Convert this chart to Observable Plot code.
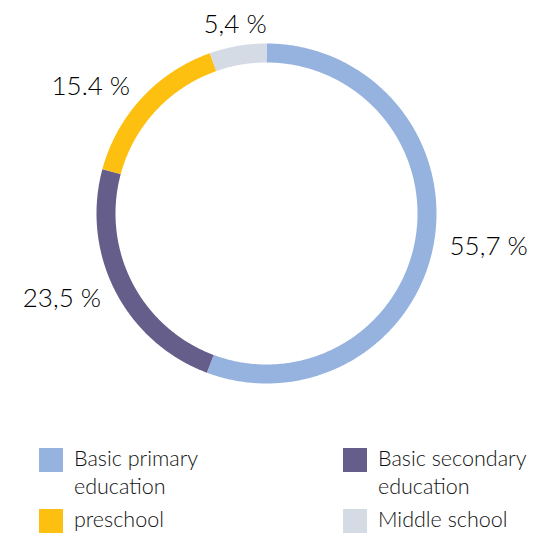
<!DOCTYPE html>
<html>
<head>
<meta charset="utf-8">
<script src="https://cdn.jsdelivr.net/npm/d3@7"></script>
<script src="https://cdn.jsdelivr.net/npm/@observablehq/plot@0.6"></script>
<style>
  html, body { margin: 0; padding: 0; background: #fff; }
  body { width: 534px; height: 541px; overflow: hidden; font-family: Lato, "Open Sans", sans-serif; color: #111; }
  #legend { display: grid; grid-template-columns: 304px 200px; padding-left: 39px; margin-top: 18px; row-gap: 9px; }
  .item { display: flex; align-items: flex-start; }
  .sw { width: 24px; height: 24px; flex: none; margin-right: 11px; }
  .lab { font-size: 21.5px; font-weight: 300; line-height: 28px; margin-top: -4px; }
</style>
</head>
<body>
<div id="chart"></div>
<div id="legend"></div>
<script>
const categories = ["Basic primary education", "Basic secondary education", "preschool", "Middle school"];
const legendLines = [["Basic primary", "education"], ["Basic secondary", "education"], ["preschool"], ["Middle school"]];
const values = [55.7, 23.5, 15.4, 5.4];
const valueLabels = ["55,7 %", "23,5 %", "15.4 %", "5,4 %"];
const colors = ["#95B3DE", "#655D8A", "#FDBF10", "#D5DBE5"];
const legendOrder = [0, 1, 2, 3];

// layout constants
const W = 534, H = 430;
const cx = 266, cy = 213;
const rOuter = 170, rInner = 151;
const rMid = (rOuter + rInner) / 2;
const rLabel = 186;

const total = d3.sum(values);
const arcRows = [];
const labelRows = [];
let acc = 0;
values.forEach((v, i) => {
  const a0 = acc / total * 2 * Math.PI;
  acc += v;
  const a1 = acc / total * 2 * Math.PI;
  const n = Math.max(2, Math.ceil((a1 - a0) / (Math.PI / 360)));
  for (let k = 0; k <= n; k++) {
    const a = a0 + (a1 - a0) * k / n;
    arcRows.push({category: categories[i], x: rMid * Math.sin(a), y: rMid * Math.cos(a)});
  }
  const am = (a0 + a1) / 2;
  const s = Math.sin(am);
  const near = Math.abs(s) < 0.3;
  labelRows.push({
    text: valueLabels[i],
    x: rLabel * s,
    y: (near ? rLabel + 6 : rLabel) * Math.cos(am),
    side: near ? "middle" : (s > 0 ? "start" : "end")
  });
});

const textStyle = {fontSize: 26, fontWeight: 300, fill: "#000", fontFamily: "Lato, 'Open Sans', sans-serif", lineAnchor: "middle"};

const chart = Plot.plot({
  width: W,
  height: H,
  margin: 0,
  x: {domain: [-cx, W - cx], axis: null},
  y: {domain: [-(H - cy), cy], axis: null},
  color: {domain: categories, range: colors},
  marks: [
    Plot.line(arcRows, {x: "x", y: "y", z: "category", stroke: "category", strokeWidth: rOuter - rInner, strokeLinecap: "butt", strokeLinejoin: "round", curve: "linear"}),
    Plot.text(labelRows.filter(d => d.side === "start"), {x: "x", y: "y", text: "text", textAnchor: "start", ...textStyle}),
    Plot.text(labelRows.filter(d => d.side === "end"), {x: "x", y: "y", text: "text", textAnchor: "end", ...textStyle}),
    Plot.text(labelRows.filter(d => d.side === "middle"), {x: "x", y: "y", text: "text", textAnchor: "middle", ...textStyle})
  ]
});
document.getElementById("chart").append(chart);

const legend = document.getElementById("legend");
legendOrder.forEach(i => {
  const item = document.createElement("div");
  item.className = "item";
  const sw = document.createElement("div");
  sw.className = "sw";
  sw.style.background = colors[i];
  const lab = document.createElement("div");
  lab.className = "lab";
  lab.innerHTML = legendLines[i].join("<br>");
  item.append(sw, lab);
  legend.append(item);
});
</script>
</body>
</html>
